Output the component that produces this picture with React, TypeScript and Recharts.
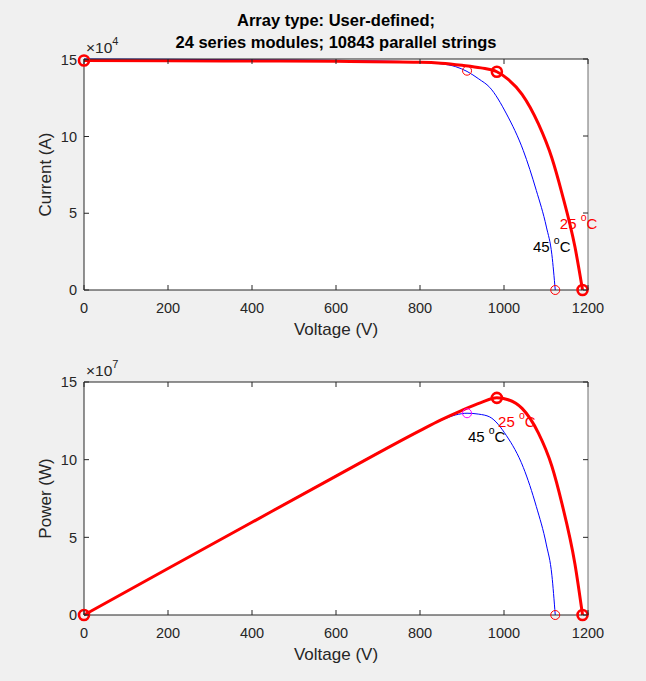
import React from "react";
import {
  LineChart,
  Line,
  XAxis,
  YAxis,
  CartesianGrid,
  ReferenceDot,
  Label,
} from "recharts";

// I-V / P-V readings, 25 °C curve (current x1e4 A, power x1e7 W)
const voltage25 = [0, 200, 400, 600, 800, 850, 900, 945, 983, 1010, 1043, 1082, 1114, 1138, 1169, 1187];
const current25 = [14.95, 14.94, 14.92, 14.9, 14.84, 14.78, 14.64, 14.47, 14.22, 13.72, 12.75, 10.82, 8.6, 6.3, 2.8, 0];
const power25 = [0, 2.99, 5.97, 8.94, 11.87, 12.56, 13.18, 13.67, 13.98, 13.86, 13.3, 11.71, 9.58, 7.17, 3.27, 0];

// 45 °C curve
const voltage45 = [0, 200, 400, 600, 800, 850, 885, 912, 940, 966, 1006, 1046, 1077, 1101, 1114, 1122];
const current45 = [15.05, 15.03, 15.0, 14.96, 14.85, 14.74, 14.55, 14.24, 13.75, 13.2, 11.47, 9.08, 6.48, 4.1, 2.3, 0];
const power45 = [0, 3.01, 6.0, 8.98, 11.88, 12.53, 12.88, 12.99, 12.93, 12.75, 11.54, 9.5, 6.98, 4.51, 2.56, 0];

// marked points (Isc, MPP, Voc)
const markV25 = [0, 983, 1187];
const markI25 = [14.95, 14.22, 0];
const markP25 = [0, 13.98, 0];
const mppV45 = [912];
const mppI45 = [14.24];
const mppP45 = [12.99];
const vocV45 = [1122];
const vocY45 = [0];

const voltTicks = [0, 200, 400, 600, 800, 1000, 1200];
const yTicks = [0, 5, 10, 15];

const FONT = '"Liberation Sans", Arial, Helvetica, sans-serif';
const INK = "#262626";
const RED = "#ff0000";
const BLUE = "#0000ff";

const zip = (xs: number[], ys: number[]) => xs.map((v, i) => ({ v, y: ys[i] }));

function BottomTick({ x, y, payload }: any) {
  return (
    <g>
      <line x1={x} x2={x} y1={y} y2={y - 5} stroke={INK} />
      <text x={x} y={y + 23} textAnchor="middle" fontSize={14.5} fill={INK} fontFamily={FONT}>
        {payload.value}
      </text>
    </g>
  );
}

function TopTick({ x, y }: any) {
  return <line x1={x} x2={x} y1={y} y2={y + 5} stroke={INK} />;
}

function LeftTick({ x, y, payload }: any) {
  return (
    <g>
      <line x1={x} x2={x + 5} y1={y} y2={y} stroke={INK} />
      <text x={x - 7} y={y} dy="0.36em" textAnchor="end" fontSize={14.5} fill={INK} fontFamily={FONT}>
        {payload.value}
      </text>
    </g>
  );
}

function RightTick({ x, y }: any) {
  return <line x1={x} x2={x - 5} y1={y} y2={y} stroke={INK} />;
}

function ExpLabel({ viewBox, exp }: any) {
  const vb = viewBox || { x: 44, y: 59, width: 40 };
  return (
    <text x={vb.x + vb.width + 2} y={vb.y - 6} fontSize={15.5} fill={INK} fontFamily={FONT}>
      ×10
      <tspan dy={-8} fontSize={11}>
        {exp}
      </tspan>
    </text>
  );
}

function TempLabel({ viewBox, temp, color }: any) {
  const vb = viewBox || { x: 0, y: 0 };
  return (
    <text x={vb.x} y={vb.y} dy="0.35em" fontSize={15} fill={color} fontFamily={FONT}>
      {temp}{" "}
      <tspan dy={-8} fontSize={10.5}>
        o
      </tspan>
      <tspan dy={8}>C</tspan>
    </text>
  );
}

function TitleLabel({ viewBox, lines }: any) {
  const vb = viewBox || { x: 84, y: 59, width: 504 };
  const cx = vb.x + vb.width / 2;
  return (
    <text x={cx} y={vb.y - 32} textAnchor="middle" fontSize={16.5} fontWeight="bold" fill="#000" fontFamily={FONT}>
      <tspan x={cx}>{lines[0]}</tspan>
      <tspan x={cx} dy={21.5}>
        {lines[1]}
      </tspan>
    </text>
  );
}

interface PanelProps {
  top: number;
  height: number;
  plotTop: number;
  marginBottom: number;
  rows25: { v: number; y: number }[];
  rows45: { v: number; y: number }[];
  marks25: { v: number; y: number }[];
  mpp45: { v: number; y: number }[];
  voc45: { v: number; y: number }[];
  mppColor: string;
  yLabel: string;
  exponent: string;
  note25: { v: number; y: number };
  note45: { v: number; y: number };
  title?: string[];
}

function Panel(p: PanelProps) {
  return (
    <div style={{ position: "absolute", left: 0, top: p.top }}>
      <LineChart
        width={646}
        height={p.height}
        margin={{ top: p.plotTop, right: 57, bottom: p.marginBottom, left: 44 }}
      >
        <CartesianGrid horizontal={false} vertical={false} fill="#ffffff" stroke="none" />
        <XAxis
          dataKey="v"
          type="number"
          domain={[0, 1200]}
          ticks={voltTicks}
          height={50}
          tickSize={0}
          tickMargin={0}
          tick={<BottomTick />}
          axisLine={{ stroke: INK }}
        >
          <Label value="Voltage (V)" position="insideBottom" offset={5} fontSize={17} fill={INK} fontFamily={FONT} />
        </XAxis>
        <XAxis
          xAxisId="t"
          dataKey="v"
          orientation="top"
          type="number"
          domain={[0, 1200]}
          ticks={voltTicks}
          height={1}
          tickSize={0}
          tickMargin={0}
          tick={<TopTick />}
          axisLine={{ stroke: INK }}
        >
          {p.title && <Label content={<TitleLabel lines={p.title} />} />}
        </XAxis>
        <YAxis
          type="number"
          domain={[0, 15]}
          ticks={yTicks}
          width={40}
          tickSize={0}
          tickMargin={0}
          tick={<LeftTick />}
          axisLine={{ stroke: INK }}
        >
          <Label
            value={p.yLabel}
            angle={-90}
            position="insideLeft"
            offset={1}
            fontSize={17}
            fill={INK}
            fontFamily={FONT}
            style={{ textAnchor: "middle" }}
          />
          <Label content={<ExpLabel exp={p.exponent} />} />
        </YAxis>
        <YAxis
          yAxisId="r"
          orientation="right"
          type="number"
          domain={[0, 15]}
          ticks={yTicks}
          width={1}
          tickSize={0}
          tickMargin={0}
          tick={<RightTick />}
          axisLine={{ stroke: "#6e6e6e" }}
        />
        <Line data={p.rows45} dataKey="y" type="monotone" stroke={BLUE} strokeWidth={1} dot={false} activeDot={false} isAnimationActive={false} />
        <Line data={p.rows25} dataKey="y" type="monotone" stroke={RED} strokeWidth={3} dot={false} activeDot={false} isAnimationActive={false} />
        <Line
          data={p.marks25}
          dataKey="y"
          stroke="none"
          dot={{ r: 5, stroke: RED, strokeWidth: 2.6, fill: "none" }}
          activeDot={false}
          isAnimationActive={false}
        />
        <Line
          data={p.mpp45}
          dataKey="y"
          xAxisId="t"
          yAxisId="r"
          stroke="none"
          dot={{ r: 4.5, stroke: p.mppColor, strokeWidth: 1, fill: "none" }}
          activeDot={false}
          isAnimationActive={false}
        />
        <Line
          data={p.voc45}
          dataKey="y"
          xAxisId="t"
          yAxisId="r"
          stroke="none"
          dot={{ r: 4.5, stroke: RED, strokeWidth: 1, fill: "none" }}
          activeDot={false}
          isAnimationActive={false}
        />
        <ReferenceDot x={p.note25.v} y={p.note25.y} r={0} fill="none" stroke="none" label={<TempLabel temp="25" color={RED} />} />
        <ReferenceDot x={p.note45.v} y={p.note45.y} r={0} fill="none" stroke="none" label={<TempLabel temp="45" color="#000000" />} />
      </LineChart>
    </div>
  );
}

export default function App() {
  return (
    <div
      style={{
        position: "absolute",
        left: 0,
        top: 0,
        width: 646,
        height: 681,
        background: "#f0f0f0",
        overflow: "hidden",
      }}
    >
      <Panel
        top={0}
        height={345}
        plotTop={58}
        marginBottom={5}
        rows25={zip(voltage25, current25)}
        rows45={zip(voltage45, current45)}
        marks25={zip(markV25, markI25)}
        mpp45={zip(mppV45, mppI45)}
        voc45={zip(vocV45, vocY45)}
        mppColor={RED}
        yLabel="Current (A)"
        exponent="4"
        note25={{ v: 1133, y: 4.3 }}
        note45={{ v: 1069, y: 2.8 }}
        title={["Array type: User-defined;", "24 series modules; 10843 parallel strings"]}
      />
      <Panel
        top={345}
        height={336}
        plotTop={36}
        marginBottom={16}
        rows25={zip(voltage25, power25)}
        rows45={zip(voltage45, power45)}
        marks25={zip(markV25, markP25)}
        mpp45={zip(mppV45, mppP45)}
        voc45={zip(vocV45, vocY45)}
        mppColor="#ff00ff"
        yLabel="Power (W)"
        exponent="7"
        note25={{ v: 986, y: 12.45 }}
        note45={{ v: 914, y: 11.45 }}
      />
    </div>
  );
}
